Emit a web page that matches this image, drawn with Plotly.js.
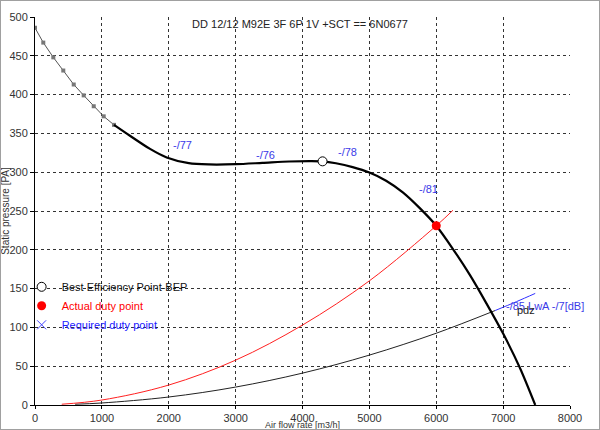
<!DOCTYPE html>
<html>
<head>
<meta charset="utf-8">
<script src="https://cdn.plot.ly/plotly-3.0.1.min.js"></script>
<style>
  body { margin: 0; padding: 0; background: #fff; }
  #wrap { position: relative; width: 600px; height: 430px; }
  #frame { position: absolute; left: 0; top: 0; width: 600px; height: 430px; box-sizing: border-box; border: 1px solid #a0a0a0; pointer-events: none; }
</style>
</head>
<body>
<div id="wrap"><div id="plot" style="width:600px;height:430px;"></div><div id="frame"></div></div>
<script>
// Fan curve, low-flow (unstable) part with markers
const fanLowX = [0, 124, 274, 423, 579, 728, 878, 1027, 1181];
const fanLowY = [486, 467, 448, 431, 413, 399, 385, 372, 361];
// Fan curve, main part
const fanX = [1181, 1420, 1720, 1969, 2300, 2600, 3000, 3400, 3800, 4100, 4300, 4500, 4750, 5000, 5250, 5500, 5750, 6000, 6250, 6500, 6750, 7000, 7250, 7480];
const fanY = [361, 347, 330, 319, 311.6, 310, 310.3, 312, 313.8, 314.3, 314, 311.5, 306.5, 299.5, 289, 274, 254, 231, 201, 168, 131, 92, 48, 0];
// System curve through actual duty point (red)
const sysRedX = [400, 1000, 2000, 3000, 4000, 5000, 6000, 6250];
const sysRedY = [1, 6.4, 25.7, 57.8, 103, 160, 231, 251];
// Lower system curve (black) and its continuation (blue)
const sysBlackX = [600, 1000, 2000, 3000, 4000, 5000, 6000, 6880];
const sysBlackY = [1, 2.6, 10.3, 23.1, 41.1, 64.3, 92.5, 121.7];
const sysBlueX = [6880, 7200, 7480];
const sysBlueY = [121.7, 133.2, 143.8];
// Special points
const bepX = [4300], bepY = [314];
const dutyX = [6000], dutyY = [231];
// Curve labels
const labelText = ["-/77", "-/76", "-/78", "-/81"];
const labelX = [2200, 3440, 4670, 5890];
const labelY = [335, 322, 326, 278];
const noiseText = "-/85 LwA -/7[dB]";
const noiseX = [7020], noiseY = [127];
const pdzText = "pdz";
const pdzX = [7340], pdzY = [122];
const titleText = "DD 12/12 M92E 3F 6P 1V +SCT == 6N0677";
const xTitle = "Air flow rate [m3/h]";
const yTitle = "Static pressure [PA]";
const xTicks = [0, 1000, 2000, 3000, 4000, 5000, 6000, 7000, 8000];
const yTicks = [0, 50, 100, 150, 200, 250, 300, 350, 400, 450, 500];
const legendNames = ["Best Efficiency Point-BEP", "Actual duty point", "Required duty point"];

const FONT = "Liberation Sans, Arial, sans-serif";
const BLUE = "#3a3ae8";

const traces = [
  { x: sysBlackX, y: sysBlackY, mode: "lines", line: { color: "#222", width: 1, shape: "spline" }, showlegend: false, hoverinfo: "skip" },
  { x: sysBlueX, y: sysBlueY, mode: "lines", line: { color: "#3030ff", width: 1, shape: "spline" }, showlegend: false, hoverinfo: "skip" },
  { x: sysRedX, y: sysRedY, mode: "lines", line: { color: "#ff2020", width: 1, shape: "spline" }, showlegend: false, hoverinfo: "skip" },
  { x: fanLowX, y: fanLowY, mode: "lines+markers", line: { color: "#555", width: 1 }, marker: { color: "#777", size: 4, symbol: "square" }, showlegend: false, hoverinfo: "skip" },
  { x: fanX, y: fanY, mode: "lines", line: { color: "#000", width: 2.2, shape: "spline", smoothing: 0.8 }, showlegend: false, hoverinfo: "skip" },
  { x: bepX, y: bepY, mode: "markers", name: legendNames[0], marker: { symbol: "circle", size: 9, color: "#fff", line: { color: "#000", width: 1 } }, showlegend: true },
  { x: dutyX, y: dutyY, mode: "markers", name: '<span style="color:#ff0000">' + legendNames[1] + '</span>', marker: { symbol: "circle", size: 9, color: "#ff0000" }, showlegend: true },
  { x: [null], y: [null], mode: "markers", name: '<span style="color:#2020ff">' + legendNames[2] + '</span>', marker: { symbol: "x-thin", size: 9, color: "#4040ff", line: { color: "#4040ff", width: 1 } }, showlegend: true }
];

const annotations = [];
for (let i = 0; i < labelText.length; i++) {
  annotations.push({ x: labelX[i], y: labelY[i], text: labelText[i], showarrow: false, font: { family: FONT, size: 11, color: BLUE } });
}
annotations.push({ x: noiseX[0], y: noiseY[0], text: noiseText, xanchor: "left", showarrow: false, font: { family: FONT, size: 11, color: BLUE } });
annotations.push({ x: pdzX[0], y: pdzY[0], text: pdzText, showarrow: false, font: { family: FONT, size: 11, color: "#222" } });

const gridStyle = { gridcolor: "#333", gridwidth: 1, griddash: "3px,3px" };

const layout = {
  width: 600, height: 430,
  margin: { l: 35, r: 30, t: 17, b: 25, pad: 0 },
  paper_bgcolor: "#fff", plot_bgcolor: "#fff",
  font: { family: FONT, size: 11, color: "#333" },
  title: { text: titleText, x: 0.5, xanchor: "center", y: 1 - 24 / 430, yanchor: "middle", font: { family: FONT, size: 11, color: "#222" } },
  xaxis: Object.assign({
    range: [0, 8000], tickvals: xTicks, ticktext: xTicks.map(String),
    showline: true, linecolor: "#000", linewidth: 1, ticks: "outside", ticklen: 3, tickcolor: "#000",
    zeroline: false, tickfont: { family: FONT, size: 11, color: "#333" },
    title: { text: xTitle, font: { family: FONT, size: 9, color: "#333" }, standoff: 0 }
  }, gridStyle),
  yaxis: Object.assign({
    range: [0, 500], tickvals: yTicks, ticktext: yTicks.map(String),
    showline: true, linecolor: "#000", linewidth: 1, ticks: "outside", ticklen: 4, tickcolor: "#000",
    zeroline: false, tickfont: { family: FONT, size: 11, color: "#333" },
    title: { text: yTitle, font: { family: FONT, size: 10, color: "#333" }, standoff: 2 }
  }, gridStyle),
  legend: {
    x: -0.025, xanchor: "left", y: 0.342, yanchor: "top",
    bgcolor: "rgba(0,0,0,0)", borderwidth: 0,
    font: { family: FONT, size: 11, color: "#111" },
    itemwidth: 30, tracegroupgap: 0
  },
  annotations: annotations,
  showlegend: true
};

Plotly.newPlot("plot", traces, layout, { displayModeBar: false, staticPlot: true });
</script>
</body>
</html>
